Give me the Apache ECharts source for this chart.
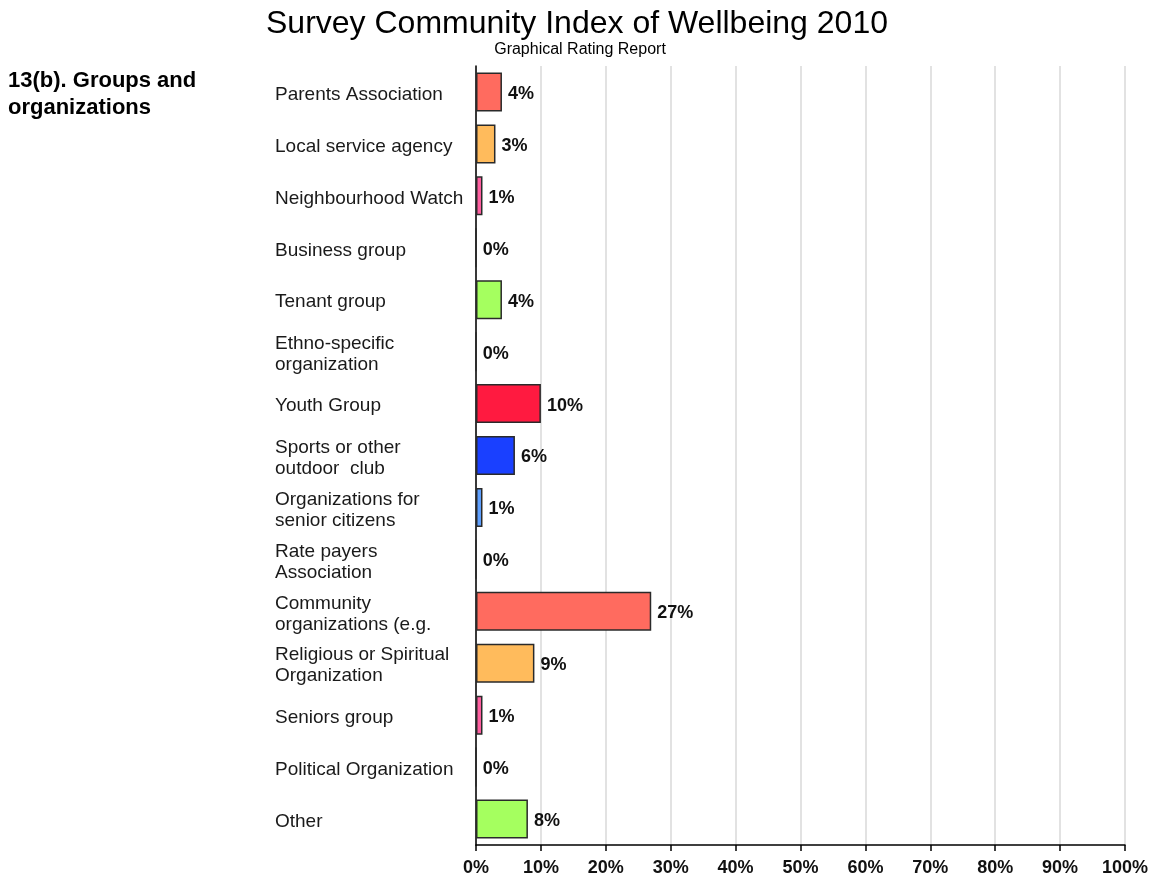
<!DOCTYPE html>
<html>
<head>
<meta charset="utf-8">
<title>Survey Community Index of Wellbeing 2010</title>
<script src="https://cdn.jsdelivr.net/npm/echarts@6/dist/echarts.min.js"></script>
<style>
  html, body { margin: 0; padding: 0; background: #fff; }
  #chart { width: 1152px; height: 880px; }
</style>
</head>
<body>
<div id="chart"></div>
<script>
// Categories, top to bottom
const categories = [
  'Parents Association',
  'Local service agency',
  'Neighbourhood Watch',
  'Business group',
  'Tenant group',
  'Ethno-specific\norganization',
  'Youth Group',
  'Sports or other\noutdoor  club',
  'Organizations for\nsenior citizens',
  'Rate payers\nAssociation',
  'Community\norganizations (e.g.',
  'Religious or Spiritual\nOrganization',
  'Seniors group',
  'Political Organization',
  'Other'
];

// Percent of respondents
const values = [4, 3, 1, 0, 4, 0, 10, 6, 1, 0, 27, 9, 1, 0, 8];

// Bar fill colours, one per category
const barColors = [
  '#FF6B5F', '#FFBB5C', '#FF5FA0', '#FF6B5F', '#A5FF5F',
  '#FFBB5C', '#FF1A40', '#1A40FF', '#5FA0FF', '#FF6B5F',
  '#FF6B5F', '#FFBB5C', '#FF5FA0', '#FFBB5C', '#A5FF5F'
];

// Axis tick labels
const tickValues = [0, 10, 20, 30, 40, 50, 60, 70, 80, 90, 100];

const FONT = '"Liberation Sans", Arial, sans-serif';

const chart = echarts.init(document.getElementById('chart'), null, { renderer: 'canvas' });

chart.setOption({
  backgroundColor: '#ffffff',
  animation: false,
  title: [
    {
      text: 'Survey Community Index of Wellbeing 2010',
      left: 572, top: 3, textAlign: 'center',
      textStyle: { fontFamily: FONT, fontSize: 32, fontWeight: 'normal', color: '#000' }
    },
    {
      text: 'Graphical Rating Report',
      left: 575, top: 37, textAlign: 'center',
      textStyle: { fontFamily: FONT, fontSize: 16, fontWeight: 'normal', color: '#000' }
    },
    {
      text: '13(b). Groups and\norganizations',
      left: 3, top: 62,
      textStyle: { fontFamily: FONT, fontSize: 22, fontWeight: 'bold', color: '#000', lineHeight: 27 }
    }
  ],
  grid: { left: 476, right: 27, top: 66, bottom: 35, containLabel: false },
  xAxis: {
    type: 'value',
    min: 0, max: 100, interval: 10,
    axisLine: { show: true, lineStyle: { color: '#000', width: 1.5 } },
    axisTick: { show: true, length: 6, lineStyle: { color: '#000', width: 1.5 } },
    splitLine: { show: true, lineStyle: { color: '#d8d8d8', width: 1.5 } },
    axisLabel: {
      margin: 14,
      fontFamily: FONT, fontSize: 18, fontWeight: 'bold', color: '#111',
      customValues: tickValues,
      formatter: v => v + '%'
    }
  },
  yAxis: {
    type: 'category',
    inverse: true,
    data: categories,
    axisLine: { show: true, lineStyle: { color: '#000', width: 1.5 } },
    axisTick: { show: false },
    splitLine: { show: false },
    axisLabel: {
      align: 'left',
      margin: 201,
      // a thin spacer line on top nudges each label slightly downward
      formatter: v => '{gap| }\n' + v.split('\n').map(s => '{t|' + s + '}').join('\n'),
      rich: {
        gap: { fontSize: 1, lineHeight: 5 },
        t: { fontFamily: FONT, fontSize: 19, color: '#1a1a1a', lineHeight: 21 }
      }
    }
  },
  series: [{
    type: 'bar',
    barWidth: 39,
    data: values.map((v, i) => ({
      value: v,
      itemStyle: { color: barColors[i] }
    })),
    itemStyle: { borderColor: '#2a2a2a', borderWidth: 1.5 },
    label: {
      show: true,
      position: 'right',
      distance: 6,
      offset: [0, 2],
      formatter: p => p.value + '%',
      fontFamily: FONT, fontSize: 18, fontWeight: 'bold', color: '#111'
    }
  }]
});
</script>
</body>
</html>
